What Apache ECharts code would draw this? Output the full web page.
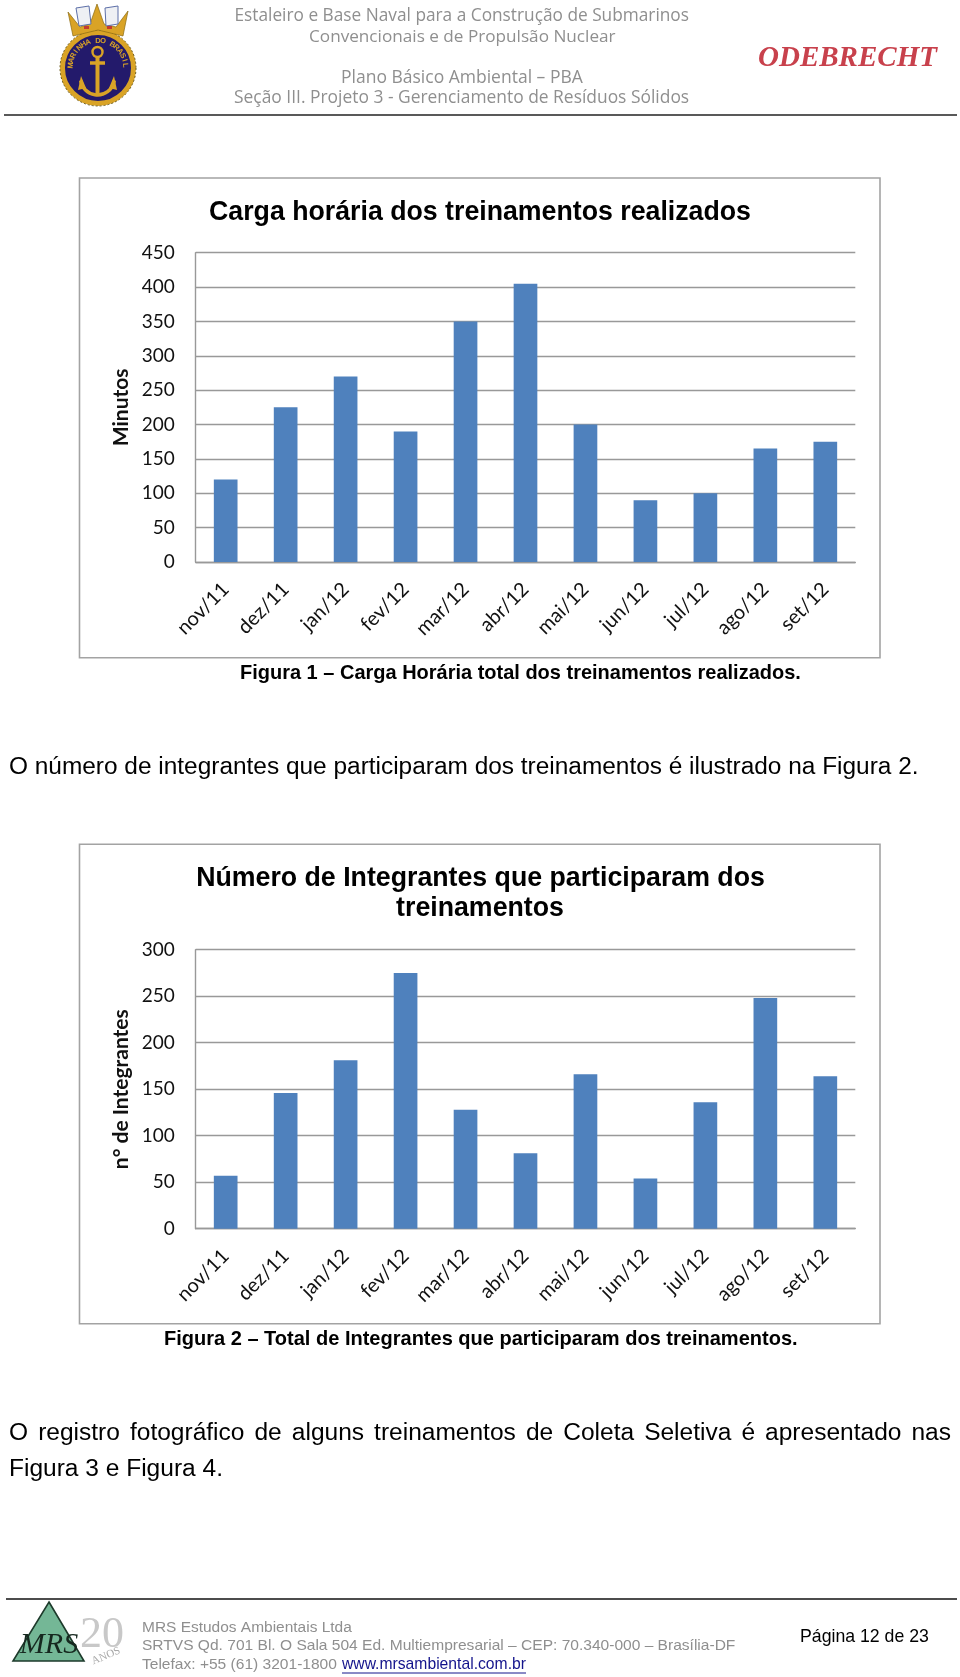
<!DOCTYPE html>
<html><head><meta charset="utf-8">
<style>html,body{margin:0;padding:0;background:#fff}#c{width:960px;height:1677px}</style>
<script src="https://cdn.jsdelivr.net/npm/echarts@6/dist/echarts.min.js"></script>
</head><body><div id="c"></div>
<script>
const categories = ['nov/11','dez/11','jan/12','fev/12','mar/12','abr/12','mai/12','jun/12','jul/12','ago/12','set/12'];
const cargaHoraria = [120,225,270,190,350,405,200,90,100,165,175];
const integrantes = [57,146,181,275,128,81,166,54,136,248,164];

const ARIAL = '"Liberation Sans"', CAL = 'Lato';
const cv = document.createElement('canvas').getContext('2d');
function measure(s, font){ cv.font = font; return cv.measureText(s).width; }
function fit(s, weight, family, w, style){ return 100 * w / measure(s, `${style||'normal'} ${weight} 100px ${family}`); }

const g = [];
function rule(x1,y,x2,color,lw){ g.push({type:'line',shape:{x1,y1:y,x2,y2:y},style:{stroke:color,lineWidth:lw}}); }
function text(s,x,y,size,o={}){
  g.push({type:'text',x,y,rotation:o.rot||0,style:{text:s,fill:o.fill||'#000',fontFamily:o.family||ARIAL,fontSize:size,
    fontWeight:o.weight||'normal',fontStyle:o.style||'normal',align:o.align||'left',verticalAlign:'middle'}});
}
function fitted(s,x1,x2,y,o={}){ text(s,x1,y,fit(s,o.weight||'normal',o.family||ARIAL,x2-x1,o.style),o); }

// frames
g.push({type:'rect',shape:{x:79.5,y:178,width:800.5,height:479.7},style:{fill:'#fff',stroke:'#a3a3a3',lineWidth:1.6}});
g.push({type:'rect',shape:{x:79.5,y:844.3,width:800.5,height:479.4},style:{fill:'#fff',stroke:'#a3a3a3',lineWidth:1.6}});

// header & footer rules
rule(4,115,957,'#222',1.5);
rule(6,1599,957,'#111',1.5);

// header
const HC='#8f8f8f', HF='"Open Sans"';
fitted('Estaleiro e Base Naval para a Construção de Submarinos',234.5,689.5,16,{fill:HC,family:HF});
fitted('Convencionais e de Propulsão Nuclear',309,616,37,{fill:HC,family:HF});
fitted('Plano Básico Ambiental – PBA',341,583,78,{fill:HC,family:HF});
fitted('Seção III. Projeto 3 - Gerenciamento de Resíduos Sólidos',234,689.5,98,{fill:HC,family:HF});
fitted('ODEBRECHT',758,937,58.5,{fill:'#c8414c',family:'"Liberation Serif"',weight:'bold',style:'italic'});

// captions and body
fitted('Figura 1 – Carga Horária total dos treinamentos realizados.',240,801,673,{weight:'bold'});
fitted('O número de integrantes que participaram dos treinamentos é ilustrado na Figura 2.',9,919,767);
fitted('Figura 2 – Total de Integrantes que participaram dos treinamentos.',164,798,1339,{weight:'bold'});
(function(){
  const words='O registro fotográfico de alguns treinamentos de Coleta Seletiva é apresentado nas'.split(' ');
  const size=fit('Figura 3 e Figura 4.','normal',ARIAL,214);
  const font=`${size}px ${ARIAL}`;
  const total=words.reduce((a,w)=>a+measure(w,font),0);
  const gap=(951-9-total)/(words.length-1);
  let x=9;
  words.forEach(w=>{text(w,x,1433,size);x+=measure(w,font)+gap;});
  text('Figura 3 e Figura 4.',9,1469,size);
})();

// footer
const FC='#8f8f8f';
fitted('MRS Estudos Ambientais Ltda',142,352,1628,{fill:FC});
fitted('SRTVS Qd. 701 Bl. O Sala 504 Ed. Multiempresarial – CEP: 70.340-000 – Brasília-DF',142,736,1646,{fill:FC});
fitted('Telefax: +55 (61) 3201-1800',142,337,1665,{fill:FC});
fitted('www.mrsambiental.com.br',342,526,1665,{fill:'#14148c'});
rule(342,1673,526,'#14148c',1);
fitted('Página 12 de 23',800,929,1637);

// Marinha crest
const gold='#d9a326', navy='#231a6b';
g.push({type:'circle',shape:{cx:98,cy:68,r:35.5},style:{fill:navy,stroke:gold,lineWidth:5}});
g.push({type:'circle',shape:{cx:98,cy:68,r:38},style:{fill:'none',stroke:'#6b5a1a',lineWidth:1,lineDash:[2,2]}});
g.push({type:'polygon',shape:{points:[[68,12],[80,27],[90,24],[97,4],[104,24],[116,27],[128,11],[123,36],[98,30],[73,36]]},style:{fill:gold,stroke:'#8a6a12',lineWidth:.7}});
g.push({type:'polygon',shape:{points:[[76,8],[89,6],[91,24],[79,26]]},style:{fill:'#eef0f4',stroke:'#5d6fa8',lineWidth:1}});
g.push({type:'polygon',shape:{points:[[105,8],[118,6],[118,24],[106,26]]},style:{fill:'#eef0f4',stroke:'#5d6fa8',lineWidth:1}});
g.push({type:'rect',shape:{x:84,y:26,width:5,height:3},style:{fill:'#c33b2e'}});
g.push({type:'rect',shape:{x:107,y:26,width:5,height:3},style:{fill:'#c33b2e'}});
g.push({type:'circle',shape:{cx:97.5,cy:52,r:5},style:{fill:'none',stroke:gold,lineWidth:2.4}});
g.push({type:'line',shape:{x1:97.5,y1:57,x2:97.5,y2:95},style:{stroke:gold,lineWidth:4}});
g.push({type:'line',shape:{x1:90,y1:63,x2:105,y2:63},style:{stroke:gold,lineWidth:3.5}});
g.push({type:'arc',shape:{cx:97.5,cy:78,r:17,startAngle:0.15,endAngle:Math.PI-0.15},style:{fill:'none',stroke:gold,lineWidth:3.5}});
g.push({type:'polygon',shape:{points:[[81,76],[86,88],[78,90]]},style:{fill:gold}});
g.push({type:'polygon',shape:{points:[[114,76],[109,88],[117,90]]},style:{fill:gold}});
(function(){
  const s='MARINHA DO BRASIL', R=27.5, a0=-Math.PI*0.97, a1=-Math.PI*0.03;
  [...s].forEach((ch,i)=>{
    const a=a0+(a1-a0)*i/(s.length-1);
    text(ch,98+R*Math.cos(a),68+R*Math.sin(a),7.5,{fill:gold,weight:'bold',align:'center',rot:-(a+Math.PI/2)});
  });
})();

// MRS logo
g.push({type:'polygon',shape:{points:[[49,1602],[84,1661],[13,1661]]},style:{fill:'#74b796',stroke:'#1d3a2b',lineWidth:1.6}});
text('MRS',49,1645,30,{family:'"Liberation Serif"',style:'italic',fill:'#16281f',align:'center'});
text('20',102,1635,44,{family:'"Liberation Serif"',fill:'#c8c8c8',align:'center'});
text('ANOS',106,1656,11,{family:'"Liberation Serif"',fill:'#a8a8a8',align:'center',rot:0.4});

const axisGray='#999999';
function xAx(i){return {type:'category',gridIndex:i,data:categories,boundaryGap:true,
  axisLine:{lineStyle:{color:axisGray,width:1.4}},axisTick:{show:false},
  axisLabel:{rotate:45,interval:0,margin:24,color:'#111',fontFamily:CAL,fontSize:20}};}
function yAx(i,max,iv,name){return {type:'value',gridIndex:i,min:0,max,interval:iv,name,nameLocation:'middle',nameGap:74,nameRotate:90,nameMoveOverlap:false,
  nameTextStyle:{fontFamily:CAL,fontWeight:'bold',fontSize:21,color:'#111',verticalAlign:'middle'},
  axisLine:{show:true,lineStyle:{color:axisGray,width:1.4}},axisTick:{show:false},
  splitLine:{show:true,lineStyle:{color:axisGray,width:1.4}},
  axisLabel:{margin:21,color:'#111',fontFamily:CAL,fontSize:19}};}
function bar(i,d){return {type:'bar',xAxisIndex:i,yAxisIndex:i,data:d,barWidth:'39.5%',itemStyle:{color:'#4f81bd'},silent:true,animation:false};}

const titleFont=fit('Carga horária dos treinamentos realizados','bold',ARIAL,542);
const chart=echarts.init(document.getElementById('c'),null,{renderer:'canvas',width:960,height:1677});
chart.setOption({
  animation:false,backgroundColor:'#fff',
  title:[
    {text:'Carga horária dos treinamentos realizados',left:475,top:207.5,textAlign:'center',textVerticalAlign:'middle',
     textStyle:{fontFamily:ARIAL,fontWeight:'bold',fontSize:titleFont,color:'#000'}},
    {text:'Número de Integrantes que participaram dos',left:475.5,top:873.5,textAlign:'center',textVerticalAlign:'middle',
     textStyle:{fontFamily:ARIAL,fontWeight:'bold',fontSize:titleFont,color:'#000'}},
    {text:'treinamentos',left:475,top:904,textAlign:'center',textVerticalAlign:'middle',
     textStyle:{fontFamily:ARIAL,fontWeight:'bold',fontSize:titleFont,color:'#000'}}
  ],
  grid:[{left:195.7,top:252.7,width:659.6,height:309.3},{left:195.7,top:949.7,width:659.6,height:279}],
  xAxis:[xAx(0),xAx(1)],
  yAxis:[yAx(0,450,50,'Minutos'),yAx(1,300,50,'n° de Integrantes')],
  series:[bar(0,cargaHoraria),bar(1,integrantes)],
  graphic:{elements:g.map(e=>Object.assign({z:e.z||0,silent:true},e))}
});
</script></body></html>
